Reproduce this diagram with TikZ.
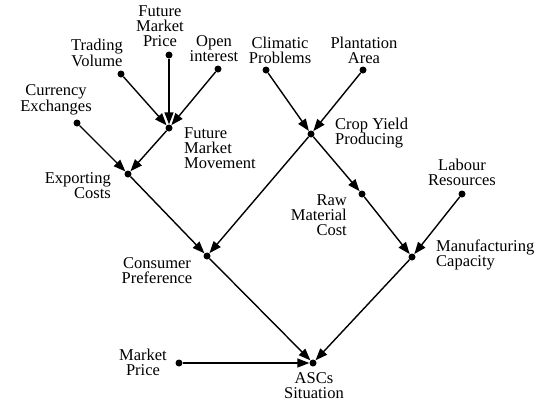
\documentclass[tikz,border=0pt]{standalone}
\usepackage{fontspec}
\setmainfont{Liberation Serif}
\newfontfamily\labelfont{Liberation Serif}
\usetikzlibrary{arrows.meta}
\begin{document}
\begin{tikzpicture}[x=1pt,y=-1pt,
  dot/.style={circle,fill=black,inner sep=0pt,minimum size=7pt},
  lbl/.style={inner sep=0pt,font=\labelfont\fontsize{16.5}{15}\selectfont,align=center},
  lbll/.style={lbl,align=left,anchor=west},
  lblr/.style={lbl,align=right,anchor=east},
  link/.style={line width=1.4pt,-{Triangle[length=12pt,width=9pt]}}]
\useasboundingbox (0,0) rectangle (544,402);

% factor points
\node[dot] (fmp) at (169,55) {};
\node[dot] (tv)  at (121,74) {};
\node[dot] (oi)  at (218,69) {};
\node[dot] (ce)  at (77,123) {};
\node[dot] (fmm) at (169,128) {};
\node[dot] (ec)  at (128,174) {};
\node[dot] (cp)  at (266,70) {};
\node[dot] (pa)  at (363,70) {};
\node[dot] (cy)  at (311,134) {};
\node[dot] (rmc) at (362,194) {};
\node[dot] (lr)  at (462,194) {};
\node[dot] (cpr) at (207,256) {};
\node[dot] (mc)  at (412,257) {};
\node[dot] (mp)  at (179,363) {};
\node[dot] (asc) at (313,363) {};

% labels
\node[lbl]  (fmpL) at (160,26)  {Future\\Market\\Price};
\node[lbl]  (tvL)  at (97,53)   {Trading\\Volume};
\node[lbl]  (oiL)  at (214,49)  {Open\\interest};
\node[lbl]  (ceL)  at (56,100)  {Currency\\Exchanges};
\node[lbll] (fmmL) at (184,148) {Future\\Market\\Movement};
\node[lblr] (ecL)  at (111,186) {Exporting\\Costs};
\node[lbl]  (cpL)  at (280,50)  {Climatic\\Problems};
\node[lbl]  (paL)  at (364,50)  {Plantation\\Area};
\node[lbll] (cyL)  at (335,133) {Crop Yield\\Producing};
\node[lblr] (rmcL) at (347,215) {Raw\\Material\\Cost};
\node[lbl]  (lrL)  at (462,172) {Labour\\Resources};
\node[lbl]  (cprL) at (157,271) {Consumer\\Preference};
\node[lbll] (mcL)  at (436,255) {Manufacturing\\Capacity};
\node[lbl]  (mpL)  at (143,362) {Market\\Price};
\node[lbl]  (ascL) at (314,386) {ASCs\\Situation};

% influences
\draw[link] (tv)  -- (fmm);
\draw[link] (fmp) -- (fmm);
\draw[link] (oi)  -- (fmm);
\draw[link] (ce)  -- (ec);
\draw[link] (fmm) -- (ec);
\draw[link] (cp)  -- (cy);
\draw[link] (pa)  -- (cy);
\draw[link] (ec)  -- (cpr);
\draw[link] (cy)  -- (cpr);
\draw[link] (cy)  -- (rmc);
\draw[link] (lr)  -- (mc);
\draw[link] (rmc) -- (mc);
\draw[link] (cpr) -- (asc);
\draw[link] (mc)  -- (asc);
\draw[link] (mp)  -- (asc);
\end{tikzpicture}
\end{document}
